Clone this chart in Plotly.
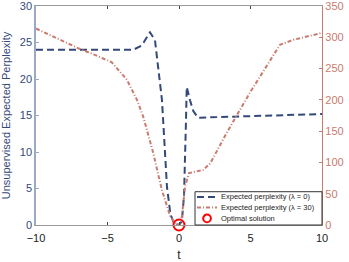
import plotly.graph_objects as go

# Expected perplexity (lambda = 0), left axis
t_blue = [-10, -6, -3.2, -2.6, -2.03, -1.68, -1.47, -1.19, -0.84, -0.6, -0.35, 0.0, 0.2, 0.35, 0.49, 0.54, 0.77, 1.0, 1.33, 3, 5, 7, 10]
v_blue = [24, 24, 24, 24.6, 26.4, 25.3, 21.6, 17.1, 5.2, 1.5, 0.2, 0.0, 0.5, 4.0, 14.4, 18.9, 17.1, 15.6, 14.7, 14.8, 14.9, 15.0, 15.2]

# Expected perplexity (lambda = 30), right axis
t_red = [-10, -8.5, -7, -5.8, -4.7, -3.64, -2.94, -2.5, -1.8, -1.2, -0.6, -0.15, 0.0, 0.2, 0.35, 0.42, 0.7, 1.2, 1.7, 2.2, 3.4, 5, 7.06, 8, 10]
v_red = [314, 298, 282, 271, 260, 232, 200, 173, 115, 56, 13, 0, 0, 13, 40, 61, 83, 86, 88, 99, 150, 213, 288, 296, 307]

# Optimal solution
t_opt = [0]
v_opt = [0]

names = ["Expected perplexity (\u03bb = 0)", "Expected perplexity (\u03bb = 30)", "Optimal solution"]

blue = "#34497a"
red = "#c97b70"
blue_dash = "7px,4px"
red_dash = "4px,2px,1px,2px"

fig = go.Figure()
fig.add_trace(go.Scatter(x=t_blue, y=v_blue, mode="lines", name=names[0],
                         line=dict(color=blue, width=2, dash=blue_dash)))
fig.add_trace(go.Scatter(x=t_red, y=v_red, mode="lines", name=names[1],
                         line=dict(color=red, width=2, dash=red_dash), yaxis="y2"))
fig.add_trace(go.Scatter(x=t_opt, y=v_opt, mode="markers", name=names[2],
                         marker=dict(symbol="circle-open", size=11, color="#ff0000", line=dict(width=2, color="#ff0000")),
                         cliponaxis=False))

# compact legend drawn in paper coordinates
lx0, lx1, ly0, ly1 = 0.556, 1.0, 0.0, 0.152
rows = [0.128, 0.080, 0.030]
fig.add_shape(type="rect", xref="paper", yref="paper", x0=lx0, x1=lx1, y0=ly0, y1=ly1,
              line=dict(color="#333", width=1), fillcolor="white", layer="above")
fig.add_shape(type="line", xref="paper", yref="paper", x0=0.563, x1=0.633, y0=rows[0], y1=rows[0],
              line=dict(color=blue, width=2, dash=blue_dash), layer="above")
fig.add_shape(type="line", xref="paper", yref="paper", x0=0.563, x1=0.633, y0=rows[1], y1=rows[1],
              line=dict(color=red, width=2, dash=red_dash), layer="above")
fig.add_shape(type="circle", xref="paper", yref="paper", x0=0.598 - 0.0135, x1=0.598 + 0.0135,
              y0=rows[2] - 0.0175, y1=rows[2] + 0.0175, line=dict(color="#ff0000", width=2), layer="above")
for r, n in zip(rows, names):
    fig.add_annotation(xref="paper", yref="paper", x=0.64, y=r, text=n, showarrow=False,
                       xanchor="left", yanchor="middle", font=dict(size=7.5, color="#222"))

fig.update_layout(
    width=349, height=262,
    margin=dict(l=36, r=27, t=6, b=37),
    paper_bgcolor="white", plot_bgcolor="white",
    font=dict(family="Liberation Sans, Arial, sans-serif", size=11, color="#222"),
    showlegend=False,
    xaxis=dict(range=[-10, 10], tickvals=[-10, -5, 0, 5, 10], ticks="inside", ticklen=3,
               showline=True, linecolor="#999", linewidth=1, mirror="ticks", showgrid=False,
               zeroline=False, automargin=False, title=dict(text="t", font=dict(size=12)),
               tickfont=dict(size=11, color="#222"), ticklabelstandoff=3, ticklabeloverflow="allow"),
    yaxis=dict(range=[0, 30], tickvals=[0, 5, 10, 15, 20, 25, 30], ticks="inside", ticklen=3,
               showline=True, linecolor="#9aaac4", linewidth=1.5, showgrid=False, zeroline=False,
               tickcolor="#9aaac4", tickfont=dict(size=11, color=blue), automargin=False,
               ticklabeloverflow="allow",
               title=dict(text="Unsupervised Expected Perplexity", font=dict(size=11, color=blue))),
    yaxis2=dict(range=[0, 350], tickvals=[0, 50, 100, 150, 200, 250, 300, 350], overlaying="y", side="right",
                ticks="inside", ticklen=3, showline=True, linecolor=red, linewidth=1.2, tickcolor=red,
                showgrid=False, zeroline=False, tickfont=dict(size=11, color=red), automargin=False,
                ticklabeloverflow="allow"),
)

fig.write_html("out.html", config={"displayModeBar": False},
               post_script="document.body.style.margin='0';document.body.style.overflow='hidden';")
